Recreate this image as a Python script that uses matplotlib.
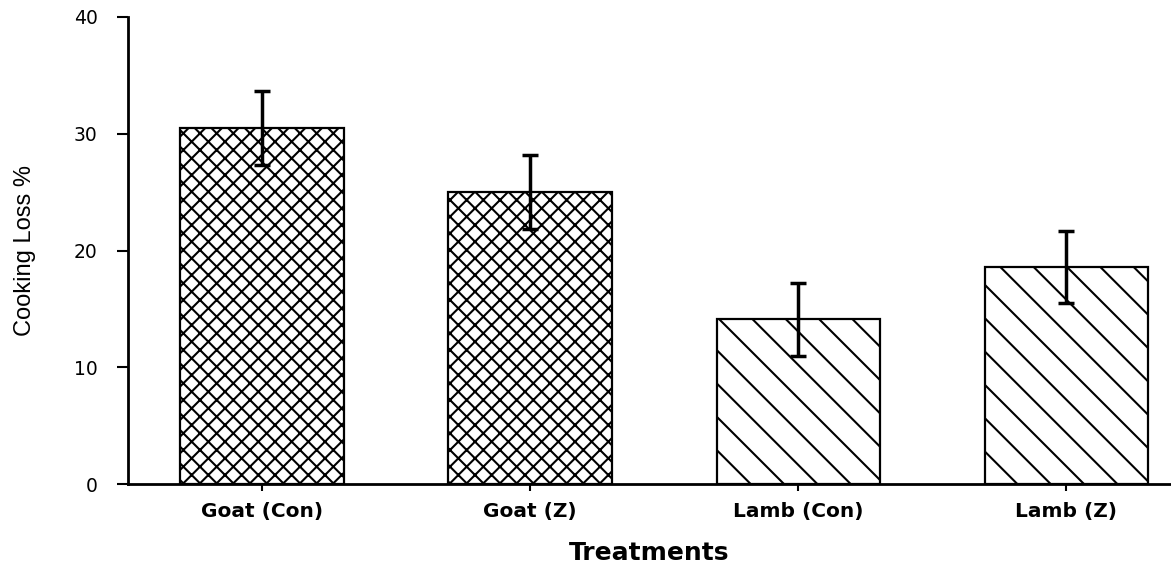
import matplotlib
matplotlib.use("Agg")
from matplotlib import pyplot as plt

treatments = ["Goat (Con)", "Goat (Z)", "Lamb (Con)", "Lamb (Z)"]
cooking_loss = [30.5, 25.0, 14.1, 18.6]
errors = [3.2, 3.15, 3.1, 3.1]
hatches = ["xx", "xx", "\\", "\\"]

plt.rcParams["font.family"] = ["DejaVu Sans"]
plt.rcParams["hatch.linewidth"] = 1.5

fig = plt.figure(figsize=(11.71, 5.63), dpi=100)
ax = fig.add_axes([128 / 1171, 1 - 484 / 563, 1 - 128 / 1171, (484 - 17) / 563])

x = list(range(len(treatments)))
bars = ax.bar(x, cooking_loss, width=0.61, color="white", edgecolor="black",
              linewidth=1.6, zorder=2)
for b, h in zip(bars, hatches):
    b.set_hatch(h)
ax.errorbar(x, cooking_loss, yerr=errors, fmt="none", ecolor="black",
            elinewidth=2.5, capsize=6, capthick=2.5, zorder=3)

ax.set_xlim(-0.5, 3.39)
ax.set_ylim(0, 40)
ax.set_yticks([0, 10, 20, 30, 40])
ax.set_xticks(x)
ax.set_xticklabels(treatments, fontsize=14.5, fontweight="bold")
ax.tick_params(axis="y", direction="out", length=8, width=1.5, labelsize=13.5, pad=14)
ax.tick_params(axis="x", direction="out", length=5, width=1.5, pad=8)

for s in ["top", "right"]:
    ax.spines[s].set_visible(False)
for s in ["left", "bottom"]:
    ax.spines[s].set_linewidth(2)

ax.set_xlabel("Treatments", fontsize=18, fontweight="bold", labelpad=14)
ax.set_ylabel("Cooking Loss %", fontsize=17,
              family=["Liberation Sans", "DejaVu Sans"], labelpad=27)

fig.savefig("out.png", dpi=100)
